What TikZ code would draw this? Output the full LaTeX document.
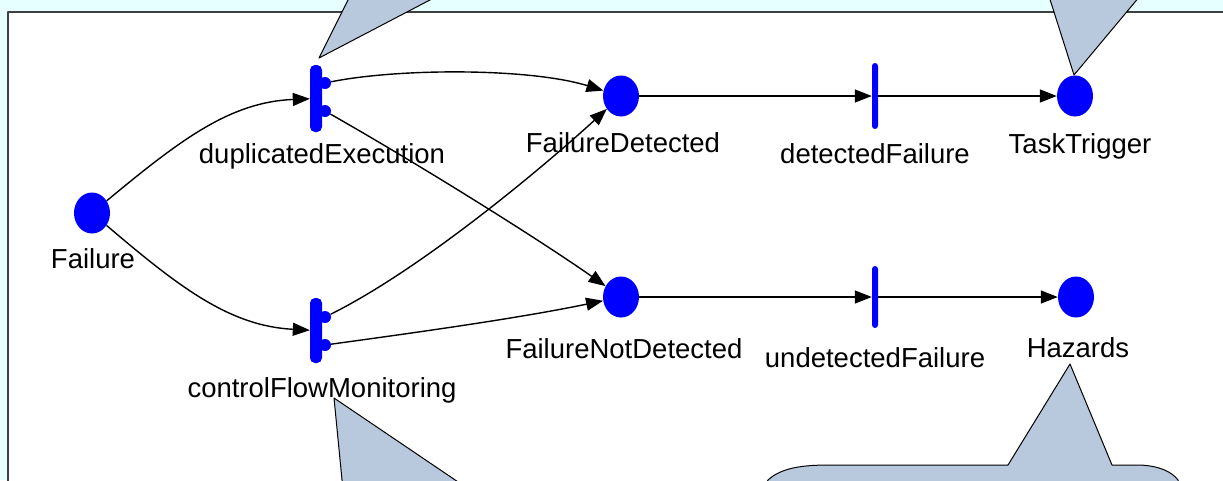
\documentclass[tikz,border=0pt]{standalone}
\usepackage{fontspec}
\setmainfont{Liberation Sans}
\usetikzlibrary{arrows.meta,shapes.geometric}
\definecolor{fondo}{RGB}{230,255,255}
\definecolor{marco}{RGB}{60,64,64}
\definecolor{globo}{RGB}{184,200,221}
\definecolor{petri}{RGB}{0,0,255}

\begin{document}
\begin{tikzpicture}[x=1pt, y=-1pt, line join=round]
  % Estilos de la red de Petri
  \tikzset{
    place/.style={ellipse, fill=petri, inner sep=0pt, minimum width=36pt, minimum height=41pt},
    fattrans/.style={rectangle, fill=petri, inner sep=0pt, minimum width=12pt, rounded corners=5pt},
    thintrans/.style={rectangle, fill=petri, inner sep=0pt, minimum width=6pt, rounded corners=3pt},
    bump/.style={circle, fill=petri, inner sep=0pt, minimum size=12pt},
    lbl/.style={anchor=base, inner sep=0pt, font=\fontsize{27.5}{33}\selectfont},
    arc/.style={line width=1.4pt, -{Triangle[length=17pt,width=13pt]}},
    callout/.style={fill=globo, draw=black, line width=1pt}
  }
  \useasboundingbox (0,0) rectangle (1223,480);
  \clip (0,0) rectangle (1223,480);

  % Fondo y marco
  \fill[fondo] (0,0) rectangle (1223,480);
  \fill[white] (8,12) rectangle (1240,500);
  \draw[marco, line width=2pt] (8,500) -- (8,12) -- (1240,12);

  % Lugares
  \node[place] (Failure) at (92,213) {};
  \node[place] (FailureDetected) at (621,96) {};
  \node[place] (FailureNotDetected) at (621,297) {};
  \node[place] (TaskTrigger) at (1075,96) {};
  \node[place] (Hazards) at (1076,297) {};

  % Transiciones (con salidas laterales)
  \node[fattrans, minimum height=67pt] (dupExec) at (316,98.5) {};
  \node[bump] (dupOutA) at (325,83) {};
  \node[bump] (dupOutB) at (325,111) {};
  \node[fattrans, minimum height=65pt] (cfMon) at (316,330.5) {};
  \node[bump] (cfmOutA) at (325,317) {};
  \node[bump] (cfmOutB) at (325,345) {};
  \node[thintrans, minimum height=66pt] (detFail) at (875,96) {};
  \node[thintrans, minimum height=62pt] (undetFail) at (875,297) {};

  % Etiquetas
  \node[lbl] (lblFailure) at (93,268) {Failure};
  \node[lbl] (lblDupExec) at (322,163) {duplicatedExecution};
  \node[lbl] (lblCfMon) at (322,397) {controlFlowMonitoring};
  \node[lbl] (lblFDet) at (623,152) {FailureDetected};
  \node[lbl] (lblDetFail) at (875,163) {detectedFailure};
  \node[lbl] (lblTask) at (1080,153) {TaskTrigger};
  \node[lbl] (lblFNDet) at (624,358) {FailureNotDetected};
  \node[lbl] (lblUndetFail) at (875,367) {undetectedFailure};
  \node[lbl] (lblHaz) at (1078,357) {Hazards};

  % Arcos
  \draw[arc] (Failure) .. controls (180,140) and (230,102) .. (dupExec);
  \draw[arc] (Failure) .. controls (180,288) and (230,326) .. (cfMon);
  \draw[arc] (dupOutA) .. controls (400,68) and (530,68) .. (FailureDetected);
  \draw[arc] (dupOutB) .. controls (420,165) and (540,240) .. (FailureNotDetected);
  \draw[arc] (cfmOutA) .. controls (420,270) and (540,170) .. (FailureDetected);
  \draw[arc] (cfmOutB) .. controls (420,332) and (520,318) .. (FailureNotDetected);
  \draw[arc] (FailureDetected) -- (detFail);
  \draw[arc] (detFail) -- (TaskTrigger);
  \draw[arc] (FailureNotDetected) -- (undetFail);
  \draw[arc] (undetFail) -- (Hazards);

  % Globos de comentario
  \filldraw[callout] (353,-10) -- (319,58) -- (449,-10) -- cycle;
  \filldraw[callout] (1047,-10) -- (1074,75) -- (1145,-10) -- cycle;
  \filldraw[callout] (343,490) -- (334,398) -- (470,490) -- cycle;
  \filldraw[callout] (760,495) -- (768,480) .. controls (782,467) and (805,465) .. (830,465)
    -- (1008,465) -- (1070,364) -- (1112,465) -- (1140,465)
    .. controls (1160,466) and (1172,472) .. (1178,480) -- (1182,495) -- cycle;
\end{tikzpicture}
\end{document}
